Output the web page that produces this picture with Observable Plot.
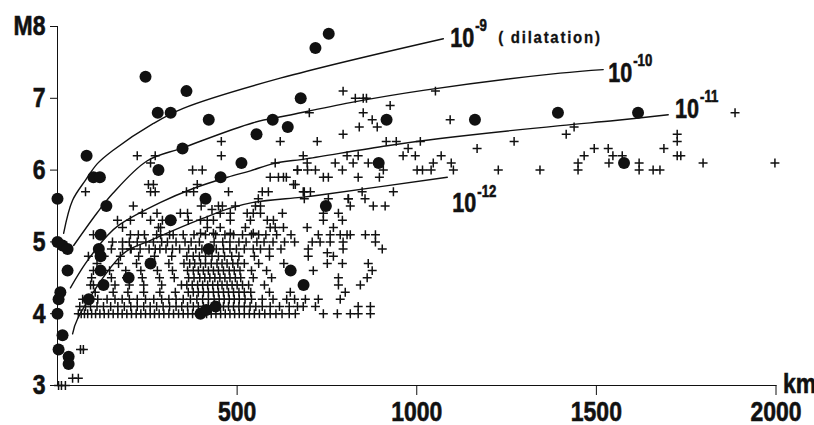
<!DOCTYPE html>
<html><head><meta charset="utf-8">
<script src="https://cdn.jsdelivr.net/npm/d3@7"></script>
<script src="https://cdn.jsdelivr.net/npm/@observablehq/plot@0.6"></script>
<style>
html,body{margin:0;padding:0;background:#fff;}
</style></head><body><div id="chart"></div>
<script>
// ---------- data ----------
const xTicks = [500, 1000, 1500, 2000];
const yTicks = [3, 4, 5, 6, 7, 8];

// filled circles [km, M]
const circles = [
  [0,5.6],[81,6.2],[100,5.9],[118,5.9],[245,7.3],[279,6.8],[315,6.8],[359,7.1],[421,6.7],[348,6.3],
  [281,6.0],[412,5.6],[454,5.9],[512,6.1],[554,6.5],[599,6.7],[755,7.9],[718,7.7],[677,7.0],[641,6.6],
  [916,6.7],[1162,6.7],[1393,6.8],[1616,6.8],[1577,6.1],[894,6.1],[136,5.5],[315,5.3],[120,5.1],[115,4.9],
  [120,4.8],[120,4.6],[128,4.4],[87,4.2],[198,4.5],[259,4.7],[421,4.9],[398,4.0],[414,4.05],[440,4.1],
  [747,5.5],[649,4.6],[685,4.4],[0,5.0],[14,4.95],[28,4.9],[28,4.6],[8,4.3],[3,4.2],[0,4.0],
  [14,3.7],[3,3.5],[31,3.4],[31,3.3]
];

// crosses, dense rows: magnitude -> distances (km)
const row40 = [58,66,75,84,95,106,118,130,142,155,168,180,193,206,219,232,245,258,270,283,296,310,323,337,350,363,376,389,402,415,428,441,454,467,480,493,506,520,534,548,562,577,592,608,625,645,662];
const row41 = [62,78,92,110,128,148,168,186,204,222,240,258,276,294,312,330,346,362,378,392,406,420,434,448,462,476,490,505,520,536,552,570,592,618,645,668];
const row42 = [70,95,112,138,160,180,200,222,245,268,290,310,330,350,370,388,404,420,436,450,464,478,492,506,522,540,570,600,638,660];
const row43 = [105,155,196,240,285,328,364,378,392,406,420,434,448,462,476,490,505,520,538,590,648];
const row44 = [92,100,160,200,240,290,345,360,375,390,404,418,432,446,458,472,486,500,515,532,576];
const row45 = [95,150,192,236,284,325,365,380,396,410,424,438,452,466,480,495,510,545,596];
const row46 = [100,145,190,232,278,320,362,378,392,406,420,434,448,462,478,492,508,540,582];
const row47 = [110,170,220,262,310,352,368,382,398,412,428,444,458,472,488,502,520,560,630];
const row48 = [130,175,226,270,318,360,378,395,412,430,448,465,485,505,548,590];
const row49 = [150,205,230,255,285,302,320,340,365,385,402,420,442,462,480,498,520,545,565,590,622];
const row50 = [200,222,246,290,306,330,355,372,395,436,460,480,505,525,555,575,600,632,660];
const row51 = [100,225,242,276,312,322,350,380,412,440,466,490,515,540,560,580,610,650];

// crosses, scattered [km, M]
const crossesOrigin = [[3,3.0],[11,3.0],[22,3.0],[42,3.1],[58,3.1],[64,3.5],[72,3.5]];
const crossesUpper = [
  [795,7.1],[829,7.0],[851,7.0],[860,7.0],[926,6.9],[1052,7.1],[701,6.8],[851,6.8],[876,6.7],[890,6.6],
  [840,6.6],[795,6.5],[1093,6.7],[1168,6.3],[1271,6.4],[723,6.4],[620,6.4],[915,6.4],[943,6.4],[1010,6.4],
  [976,6.3],[962,6.2],[996,6.2],[1068,6.2],[1096,6.1],[1046,6.1],[1001,6.0],[1016,6.0],[1040,6.0],[1102,6.0],
  [1227,6.0],[1343,6.0],[684,6.2],[806,6.2],[837,6.2],[773,6.1],[823,6.1],[865,6.1],[695,6.1],[668,6.0],
  [718,6.0],[740,5.9],[754,5.9],[793,6.0],[837,5.9],[896,5.9],[907,6.0],[629,5.9],[657,5.8],[684,5.7],
  [704,5.7],[848,5.7],[935,5.7],[809,5.6],[856,5.6],[754,5.6]
];
const crossesFar = [
  [1416,6.5],[1438,6.6],[1494,6.3],[1466,6.2],[1533,6.3],[1546,6.2],[1572,6.2],[1535,6.1],[1449,6.1],[1449,6.0],
  [1619,6.1],[1619,6.0],[1658,6.0],[1677,6.0],[1688,6.3],[1725,6.5],[1725,6.4],[1725,6.2],[1735,6.2],[1797,6.1],
  [1886,6.8],[1997,6.1]
];
const crossesMid = [
  [456,6.4],[456,6.2],[376,6.0],[403,6.0],[389,5.8],[359,5.7],[379,5.7],[476,5.7],[606,6.1],[592,5.9],
  [615,5.9],[637,5.9],[662,5.8],[668,6.0],[696,6.0],[570,5.7],[587,5.7],[687,5.7],[687,5.6],[559,5.6],
  [551,5.5],[565,5.5],[495,5.5],[448,5.5],[459,5.5],[453,5.4],[481,5.4],[528,5.4],[545,5.4],[565,5.4],
  [626,5.4],[584,5.3],[537,5.3],[417,5.3],[417,5.2],[342,5.4],[362,5.4],[364,5.3],[453,5.2],[523,5.2],
  [592,5.2],[606,5.2],[629,5.2],[695,5.2],[287,5.2],[400,5.5],[430,5.45],[277,5.4],[319,5.3],[398,5.3],
  [434,5.3],[481,5.3],[601,5.3],[398,5.12],[434,5.12],[481,5.12],[545,5.12]
];
const crossesLeft = [
  [78,5.7],[222,6.2],[272,6.2],[259,6.1],[253,5.8],[267,5.8],[259,5.7],[272,5.7],[211,5.5],[236,5.4],
  [167,5.3],[203,5.3],[181,5.2],[203,5.1],[153,5.0],[181,5.0],[181,4.9],[203,4.9],[259,5.3],[281,5.2],
  [287,5.1],[267,5.0],[272,4.9],[292,5.3],[86,4.8]
];
const crossesRight = [
  [810,5.6],[815,5.5],[879,5.5],[912,5.5],[740,5.4],[740,5.3],[782,5.4],[793,5.3],[768,5.2],[726,5.1],
  [759,5.1],[787,5.1],[806,5.1],[815,5.1],[709,5.0],[731,5.0],[759,5.0],[795,5.0],[857,5.1],[885,5.1],
  [885,5.0],[904,4.9],[795,4.9],[698,4.9],[698,4.8],[751,4.85],[768,4.8],[751,4.7],[793,4.7],[865,4.7],
  [876,4.6],[862,4.5],[843,4.4],[712,4.6],[782,4.5],[782,4.4],[801,4.3],[787,4.2],[690,4.2],[726,4.2],
  [684,4.1],[718,4.1],[740,4.0],[779,4.0],[815,4.0],[837,4.1],[871,4.1],[871,4.0],[837,4.0]
];

// strain curves [km, M]
const strain9 = [[17,5.12],[42,5.58],[78,5.86],[111,6.09],[153,6.27],[267,6.65],[350,6.86],[620,7.28],[1074,7.83]];
const strain10 = [[45,4.95],[111,5.41],[153,5.67],[250,6.13],[348,6.31],[545,6.66],[640,6.76],[815,6.94],[1018,7.11],[1399,7.35],[1519,7.40]];
const strain11 = [[36,4.36],[78,4.70],[139,5.09],[170,5.23],[287,5.55],[376,5.74],[473,5.90],[537,5.99],[601,6.09],[695,6.16],[918,6.34],[1065,6.44],[1399,6.62],[1552,6.69],[1700,6.77]];
const strain12 = [[42,3.72],[56,3.93],[184,4.84],[259,5.02],[323,5.16],[406,5.33],[481,5.47],[545,5.55],[676,5.62],[726,5.65],[1085,5.90]];

// curve labels
const labelExp = ["-9", "-10", "-11", "-12"];
const labelKm = [1093, 1533, 1719, 1099];
const labelM = [7.84, 7.35, 6.85, 5.53];
const labelNote = ["( dilatation)", "", "", ""];

// ---------- build tables ----------
const dotTable = circles.map(([km, M]) => ({km, M}));
const crossTable = [];
[[4.0,row40],[4.1,row41],[4.2,row42],[4.3,row43],[4.4,row44],[4.5,row45],[4.6,row46],[4.7,row47],[4.8,row48],[4.9,row49],[5.0,row50],[5.1,row51]]
  .forEach(([M, kms]) => kms.forEach(km => crossTable.push({km, M})));
[crossesOrigin, crossesUpper, crossesFar, crossesMid, crossesLeft, crossesRight]
  .forEach(list => list.forEach(([km, M]) => crossTable.push({km, M})));
const curveTable = [];
[["-9",strain9],["-10",strain10],["-11",strain11],["-12",strain12]]
  .forEach(([s, pts]) => pts.forEach(([km, M]) => curveTable.push({strain: s, km, M})));
const labels = labelExp.map((e, i) => ({exp: e, km: labelKm[i], M: labelM[i], note: labelNote[i]}));

const font = "'Liberation Sans','Arial',sans-serif";

const chart = Plot.plot({
  width: 814, height: 425,
  marginLeft: 57, marginRight: 38.5, marginTop: 26, marginBottom: 40,
  style: {fontFamily: font, fontWeight: "bold", fontSize: "28px", background: "#fff", color: "#111", overflow: "visible"},
  x: {domain: [0, 2000], ticks: xTicks, tickFormat: d => String(d), tickSize: 10, tickPadding: 6, line: true, label: null},
  y: {domain: [3, 8], ticks: yTicks, tickFormat: d => d === 8 ? "M8" : String(d), tickSize: 7, tickPadding: 5, line: true, label: null},
  marks: [
    Plot.line(curveTable, {x: "km", y: "M", z: "strain", curve: "catmull-rom", stroke: "#111", strokeWidth: 1.4}),
    Plot.dot(crossTable, {x: "km", y: "M", symbol: "plus", r: 3, stroke: "#111", strokeWidth: 1.5}),
    Plot.dot(dotTable, {x: "km", y: "M", r: 6, fill: "#111", stroke: "none"}),
    Plot.text(labels, {x: "km", y: "M", text: () => "10", textAnchor: "start", fontSize: 27, fill: "#111"}),
    Plot.text(labels, {x: "km", y: "M", text: "exp", textAnchor: "start", dx: 25, dy: -12, fontSize: 16, fill: "#111"}),
    Plot.text(labels, {x: "km", y: "M", text: "note", textAnchor: "start", dx: 48, dy: 0, fontSize: 17, fill: "#111"}),
    Plot.text([{t: "km", km: 2000, M: 3}], {x: "km", y: "M", text: "t", textAnchor: "start", dx: 7, dy: -1, fontSize: 28, fill: "#111"})
  ]
});
document.getElementById("chart").appendChild(chart);
// condense all text (the reference uses a heavy bold condensed face)
d3.select(chart).selectAll("text").each(function() {
  const el = this;
  if (!el.textContent) return;
  const nodes = el.childElementCount ? Array.from(el.querySelectorAll("tspan")) : [el];
  nodes.forEach(n => {
    if (!n.textContent) return;
    let f = 0.82;
    if (n.textContent === "( dilatation)") { n.setAttribute("letter-spacing", "2"); f = 0.88; }
    else if (n.textContent === "10") f = 0.8;
    const len = n.getComputedTextLength();
    n.setAttribute("textLength", (len * f).toFixed(1));
    n.setAttribute("lengthAdjust", "spacingAndGlyphs");
  });
  el.setAttribute("stroke", "#111");
  el.setAttribute("stroke-width", el.textContent === "( dilatation)" ? "0.3" : "0.6");
});
</script>
</body></html>
